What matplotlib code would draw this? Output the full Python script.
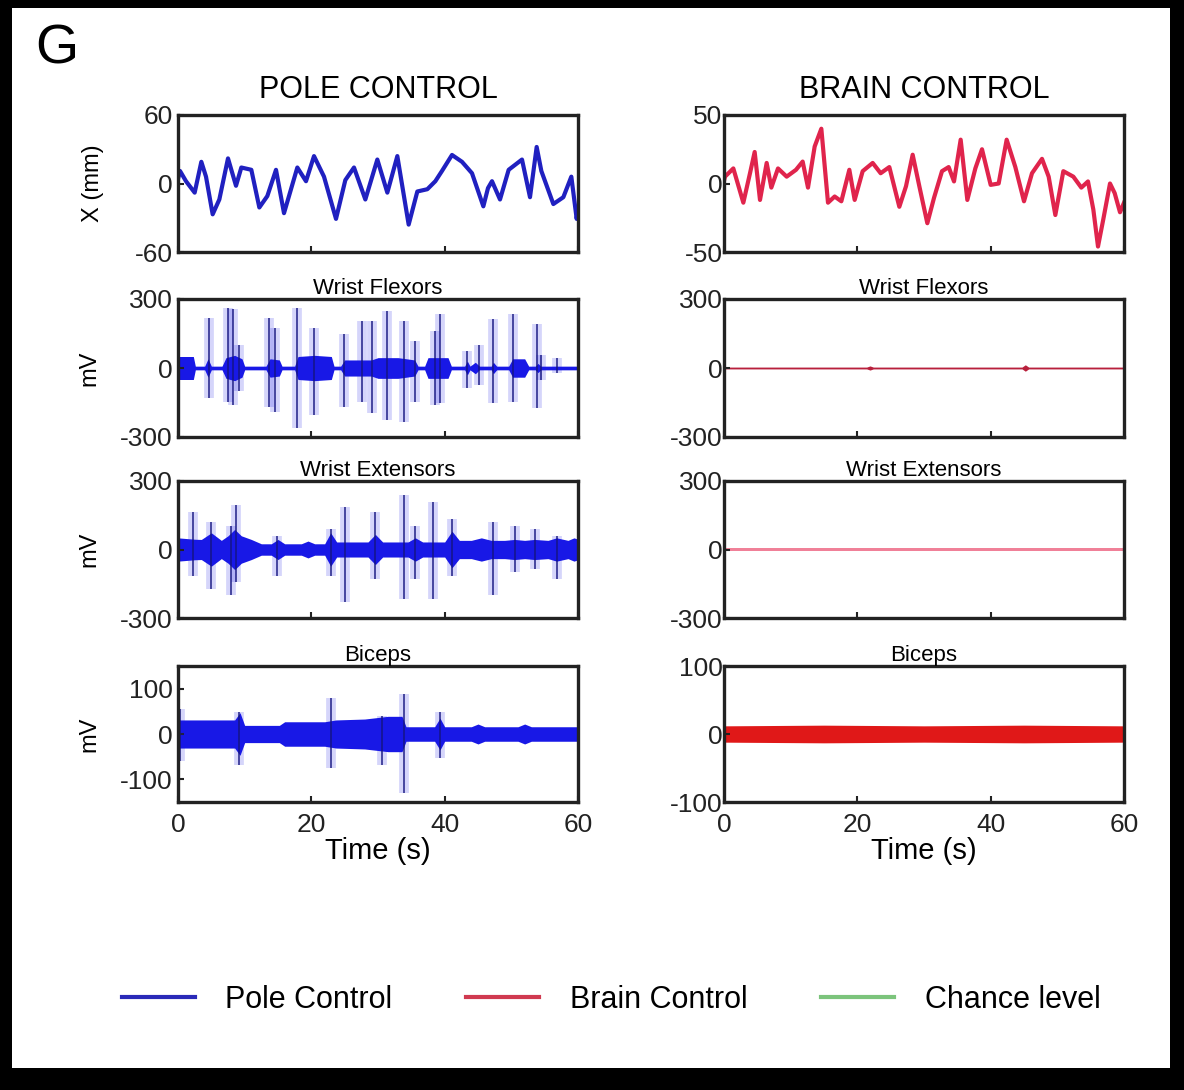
import matplotlib.pyplot as plt
from matplotlib.lines import Line2D
from matplotlib.patches import Rectangle

plt.rcParams['font.family'] = ['Liberation Sans', 'DejaVu Sans']
plt.rcParams['axes.unicode_minus'] = False

# hand position, pole control (s, mm)
pole_t = [0.0, 0.3, 1.2, 2.5, 3.5, 4.2, 5.2, 6.2, 7.5, 8.7, 9.5, 11.0, 12.2, 13.4, 14.7,
          15.9, 17.9, 19.2, 20.4, 21.9, 23.7, 25.1, 26.4, 28.1, 29.9, 31.4, 32.9, 34.6,
          35.9, 37.4, 38.6, 39.6, 41.1, 42.6, 44.1, 45.8, 46.5, 47.1, 48.3, 49.6, 51.6,
          52.8, 53.8, 54.5, 56.3, 57.8, 59.0, 59.8, 60.0]
pole_x = [4, 11, 2, -8, 19, 6, -27, -14, 22, -2, 14, 12, -21, -11, 12,
          -26, 14, 2, 24, 6, -31, 3, 14, -14, 21, -8, 24, -36,
          -7, -5, 2, 11, 25, 19, 9, -20, -4, 2, -14, 12, 21,
          -12, 32, 11, -18, -12, 6, -31, -22]

# cursor position, brain control (s, mm)
brain_t = [0.0, 0.15, 1.4, 2.9, 3.9, 4.6, 5.4, 6.4, 7.1, 8.1, 9.4, 10.8, 11.8, 12.6, 13.6,
           14.6, 15.6, 16.6, 17.6, 18.8, 19.6, 20.8, 22.3, 23.5, 24.8, 26.3, 27.3, 28.3,
           29.3, 30.5, 31.5, 32.7, 33.7, 34.5, 35.5, 36.5, 37.7, 38.7, 40.0, 41.2, 42.4,
           43.7, 45.0, 46.2, 47.7, 48.7, 49.7, 50.9, 52.4, 53.6, 54.6, 55.4, 56.1, 56.9,
           57.9, 58.6, 59.4, 60.0]
brain_x = [2, 5, 11, -14, 7.5, 23, -12, 15, -3, 11, 5, 10, 16, -3, 27,
           40, -14, -9.5, -13, 10, -12, 9, 15, 7.5, 12, -17, -2, 21,
           -2, -29, -10.5, 9, 12, 1.5, 32, -12, 11, 25, -1, 0, 32,
           12, -13, 7.5, 18, 5, -23, 9, 5, -3, 1.5, -19, -46, -26,
           0, -7, -21, -14]

# EMG, pole control: dense envelope half-width and single spikes (mV)
flex_env_t = [0, 2.3, 2.6, 4.0, 4.5, 5.0, 6.6, 7.2, 8.5, 9.6, 10.0, 13.2, 13.8, 15.2, 15.6,
              17.5, 18.0, 20.5, 23.0, 23.4, 24.4, 25.0, 29.0, 30.0, 33.0, 35.5, 36.0, 37.0,
              37.5, 40.5, 41.0, 43.0, 43.4, 43.8, 44.6, 45.2, 47.0, 47.3, 47.8, 49.6, 50.2,
              52.0, 52.6, 53.6, 54.0, 54.4, 60]
flex_env_a = [50, 50, 8, 8, 40, 8, 8, 45, 55, 40, 8, 8, 40, 35, 8,
              8, 50, 55, 50, 8, 8, 35, 35, 45, 45, 35, 8, 8,
              45, 45, 8, 8, 30, 8, 25, 8, 8, 25, 8, 8, 40,
              40, 8, 8, 20, 8, 8]
flex_spk_t = [4.7, 7.5, 8.2, 9.2, 13.6, 14.6, 17.9, 20.4, 24.9, 27.6, 29.1, 31.4, 33.9,
              35.6, 38.6, 39.3, 43.3, 45.1, 47.3, 50.3, 53.8, 54.5, 56.8]
flex_spk_hi = [219, 263, 255, 102, 219, 175, 263, 175, 146, 204, 204, 248, 204,
               117, 161, 234, 73, 102, 212, 234, 190, 58, 44]
flex_spk_lo = [-131, -146, -160, -102, -168, -190, -263, -204, -168, -146, -197, -226, -234,
               -146, -160, -153, -88, -73, -153, -146, -175, -51, -22]

ext_env_t = [0, 2.5, 3.5, 5.0, 6.5, 7.5, 8.5, 9.5, 11.0, 12.5, 14.0, 15.0, 16.0, 18.5, 19.5,
             20.5, 22.0, 22.9, 23.8, 25.0, 28.5, 29.6, 30.7, 34.5, 35.6, 36.7, 40.0, 41.1,
             42.2, 44.0, 45.5, 47.0, 49.0, 50.5, 52.0, 53.5, 55.5, 56.8, 58.5, 59.4, 60]
ext_env_a = [51, 45, 44, 73, 40, 60, 88, 60, 44, 25, 25, 44, 25, 25, 37,
             25, 25, 73, 33, 33, 33, 66, 33, 33, 51, 33, 33, 80,
             40, 40, 51, 40, 40, 44, 40, 44, 40, 51, 40, 51, 45]
ext_spk_t = [2.2, 5.0, 8.0, 8.7, 14.9, 22.9, 25.1, 29.6, 33.9, 35.6, 38.3, 41.1, 47.3,
             50.5, 53.5, 56.8]
ext_spk_hi = [164, 120, 105, 193, 61, 90, 185, 164, 237, 105, 207, 134, 120, 105, 90, 61]
ext_spk_lo = [-114, -172, -201, -143, -114, -114, -231, -128, -216, -128, -216, -114, -201,
              -99, -85, -128]

bic_env_t = [0, 4.0, 8.5, 9.3, 10.0, 15.2, 16.0, 22.0, 23.7, 28.0, 31.5, 33.6, 34.2, 38.5,
             39.3, 40.0, 44.0, 45.0, 46.0, 51.0, 52.0, 53.0, 60]
bic_env_a = [31, 31, 31, 47, 19, 19, 27, 27, 31, 33, 39, 39, 16, 16,
             35, 16, 16, 22, 16, 16, 22, 16, 16]
bic_spk_t = [0.3, 9.2, 22.9, 30.6, 33.9, 39.3]
bic_spk_hi = [55, 49, 80, 40, 88, 49]
bic_spk_lo = [-60, -68, -75, -68, -130, -52]

# EMG, brain control
bflex_env_t = [0, 21.4, 21.9, 22.4, 44.7, 45.2, 45.7, 60]
bflex_env_a = [4, 4, 9, 4, 4, 14, 4, 4]
bext_env_t = [0, 60]
bext_env_a = [6, 6]
bbic_env_t = [0, 15, 30, 45, 60]
bbic_env_a = [12, 13, 12, 13, 12]

rows = ['Wrist Flexors', 'Wrist Extensors', 'Biceps']
legend_names = ['Pole Control', 'Brain Control', 'Chance level']
legend_colors = ['#2a2ab8', '#d03a50', '#7cc47c']

W, H = 1184, 1090
fig = plt.figure(figsize=(W / 100, H / 100), dpi=100, facecolor='black')
fig.patches.append(Rectangle((12 / W, 1 - 1068 / H), 1158 / W, 1060 / H,
                             transform=fig.transFigure, facecolor='white',
                             edgecolor='none', zorder=-1))


def add_ax(left, top, right, bottom):
    return fig.add_axes([left / W, 1 - bottom / H, (right - left) / W, (bottom - top) / H])


def style(ax, lim, xlabels, pad):
    ax.set_xlim(0, 60)
    ax.set_ylim(-lim, lim)
    ax.set_yticks([-lim if lim != 150 else -100, 0, lim if lim != 150 else 100])
    ax.set_xticks([0, 20, 40, 60])
    for s in ax.spines.values():
        s.set_linewidth(2.4)
        s.set_color('#222222')
    ax.tick_params(direction='in', length=4, width=1.5, labelsize=19, pad=pad,
                   colors='#222222', labelbottom=xlabels)
    ax.tick_params(axis='x', pad=8)
    if xlabels:
        ax.set_xlabel('Time (s)', fontsize=21, labelpad=0)


def draw_emg(ax, env_t, env_a, spk_t, spk_hi, spk_lo, color, dark):
    ax.fill_between(env_t, [-a for a in env_a], env_a, color=color, lw=0)
    ax.vlines(spk_t, spk_lo, spk_hi, color=color, lw=7, alpha=0.18)
    ax.vlines(spk_t, spk_lo, spk_hi, color=dark, lw=1.3, alpha=0.8)


row_px = [(115, 252), (299, 437), (481, 618), (666, 802)]
left_x = (178, 578)
right_x = (724, 1124)

# left column: pole control
ax = add_ax(left_x[0], row_px[0][0], left_x[1], row_px[0][1])
ax.plot(pole_t, pole_x, color='#2020c0', lw=3)
style(ax, 60, False, 4)
ax.set_title('POLE CONTROL', fontsize=22, pad=12)
ax.set_ylabel('X (mm)', fontsize=17, labelpad=22)

blue_sets = [(flex_env_t, flex_env_a, flex_spk_t, flex_spk_hi, flex_spk_lo, 300),
             (ext_env_t, ext_env_a, ext_spk_t, ext_spk_hi, ext_spk_lo, 300),
             (bic_env_t, bic_env_a, bic_spk_t, bic_spk_hi, bic_spk_lo, 150)]
for i, (et, ea, st, sh, sl, lim) in enumerate(blue_sets):
    ax = add_ax(left_x[0], row_px[i + 1][0], left_x[1], row_px[i + 1][1])
    draw_emg(ax, et, ea, st, sh, sl, '#1818e6', '#141480')
    style(ax, lim, i == 2, 4)
    ax.set_title(rows[i], fontsize=16, pad=3)
    ax.set_ylabel('mV', fontsize=17, labelpad=14)

# right column: brain control
ax = add_ax(right_x[0], row_px[0][0], right_x[1], row_px[0][1])
ax.plot(brain_t, brain_x, color='#e0244c', lw=3)
style(ax, 50, False, 1)
ax.set_title('BRAIN CONTROL', fontsize=22, pad=12)

red_sets = [(bflex_env_t, bflex_env_a, '#b8203c', 300),
            (bext_env_t, bext_env_a, '#f08098', 300),
            (bbic_env_t, bbic_env_a, '#e01818', 100)]
for i, (et, ea, color, lim) in enumerate(red_sets):
    ax = add_ax(right_x[0], row_px[i + 1][0], right_x[1], row_px[i + 1][1])
    ax.fill_between(et, [-a for a in ea], ea, color=color, lw=0)
    style(ax, lim, i == 2, 1)
    ax.set_title(rows[i], fontsize=16, pad=3)

fig.text(35 / W, 1 - 64 / H, 'G', fontsize=40, va='baseline', ha='left')

handles = [Line2D([], [], color=c, lw=3) for c in legend_colors]
fig.legend(handles, legend_names, loc='center', bbox_to_anchor=(611 / W, 1 - 1000 / H),
           ncol=3, frameon=False, fontsize=22, handlelength=2.4, handletextpad=1.0,
           columnspacing=2.4)

plt.savefig('out.png', dpi=100, facecolor=fig.get_facecolor())
